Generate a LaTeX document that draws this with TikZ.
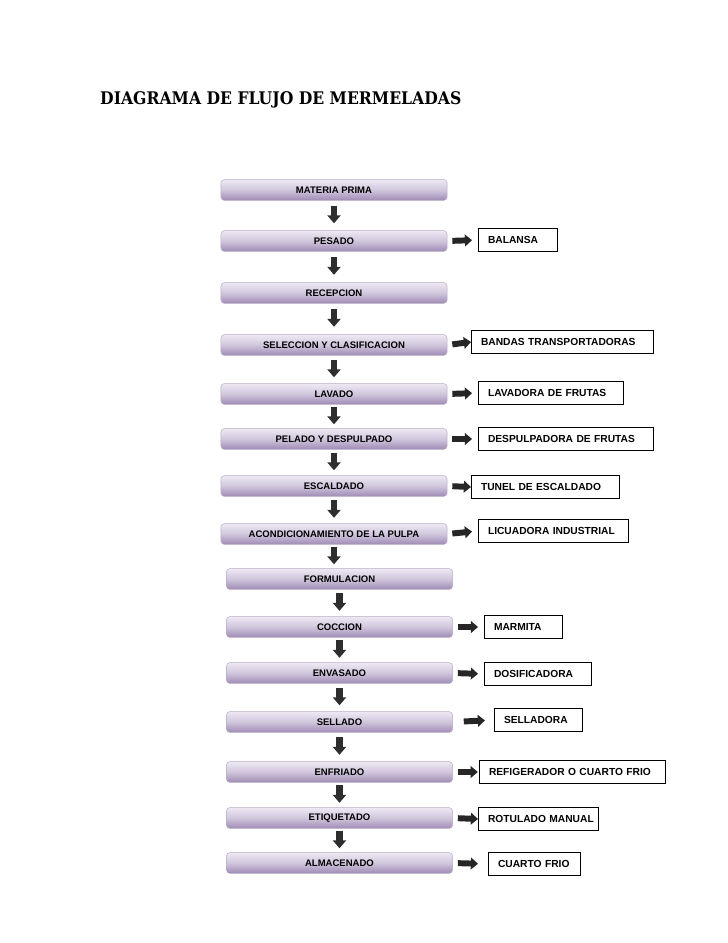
\documentclass[tikz,border=0pt]{standalone}
\usepackage{fontspec}
\setmainfont{Liberation Sans}
\newfontfamily\titulofont{DejaVu Serif Condensed}
\usetikzlibrary{arrows.meta}
\definecolor{lilaclaro}{RGB}{238,233,243}
\definecolor{lilamedio}{RGB}{208,198,220}
\definecolor{lilaoscuro}{RGB}{158,138,180}
\definecolor{lilaborde}{RGB}{182,172,196}
\tikzset{
  paso/.style={draw=lilaborde, rounded corners=3pt, top color=lilaclaro, bottom color=lilaoscuro, middle color=lilamedio, minimum width=190pt, minimum height=17.6pt, inner sep=0pt, font=\bfseries\fontsize{8}{9}\selectfont},
  equipo/.style={draw, line width=0.8pt, fill=white, anchor=west, inner xsep=8pt, minimum height=19pt, text width=#1, align=left, font=\bfseries\fontsize{8.6}{10}\selectfont},
  flecha/.style={draw=black!82, line width=5.8pt, -{Triangle[width=11pt,length=6.7pt]}, shorten <=#1*0.84pt-0.84pt, shorten >=#1*0.84pt+0.84pt},
  flechah/.style={draw=black!85, line width=5pt, -{Triangle[width=9.8pt,length=6pt]}, shorten <=4.2pt, shorten >=5pt}
}
\begin{document}
\begin{tikzpicture}[x=0.84pt, y=-0.84pt]
\useasboundingbox (0,0) rectangle (728,943);
\node[anchor=west, inner sep=0pt, font=\titulofont\bfseries\fontsize{14.6}{17}\selectfont] (titulo) at (100,100) {DIAGRAMA DE FLUJO DE MERMELADAS};

\node[paso] (p1) at (334,190) {MATERIA PRIMA};
\node[paso] (p2) at (334,241) {PESADO};
\node[paso] (p3) at (334,293) {RECEPCION};
\node[paso] (p4) at (334,345) {SELECCION Y CLASIFICACION};
\node[paso] (p5) at (334,394) {LAVADO};
\node[paso] (p6) at (334,439) {PELADO Y DESPULPADO};
\node[paso] (p7) at (334,486) {ESCALDADO};
\node[paso] (p8) at (334,534) {ACONDICIONAMIENTO DE LA PULPA};
\node[paso] (p9) at (339.5,579) {FORMULACION};
\node[paso] (p10) at (339.5,627) {COCCION};
\node[paso] (p11) at (339.5,673) {ENVASADO};
\node[paso] (p12) at (339.5,722) {SELLADO};
\node[paso] (p13) at (339.5,772) {ENFRIADO};
\node[paso] (p14) at (339.5,818) {ETIQUETADO};
\node[paso] (p15) at (339.5,863) {ALMACENADO};

\node[equipo=50.4pt] (e1) at (478,240) {BALANSA};
\node[equipo=136.9pt] (e2) at (471,342) {\mbox{BANDAS TRANSPORTADORAS}};
\node[equipo=105.8pt] (e3) at (478,393) {\mbox{LAVADORA DE FRUTAS}};
\node[equipo=131pt] (e4) at (478,439) {\mbox{DESPULPADORA DE FRUTAS}};
\node[equipo=108.3pt] (e5) at (471,487) {\mbox{TUNEL DE ESCALDADO}};
\node[equipo=110pt] (e6) at (478,531) {\mbox{LICUADORA INDUSTRIAL}};
\node[equipo=49.5pt] (e7) at (484,627) {MARMITA};
\node[equipo=73.9pt] (e8) at (484,674) {DOSIFICADORA};
\node[equipo=57.9pt] (e9) at (494,720) {SELLADORA};
\node[equipo=140.2pt] (e10) at (479,772) {\mbox{REFIGERADOR O CUARTO FRIO}};
\node[equipo=84.8pt] (e11) at (478,819) {\mbox{ROTULADO MANUAL}};
\node[equipo=61.3pt] (e12) at (488,864) {\mbox{CUARTO FRIO}};

\draw[flecha=6] (p1.south) -- (p1.south |- p2.north);
\draw[flecha=6.5] (p2.south) -- (p2.south |- p3.north);
\draw[flecha=6.5] (p3.south) -- (p3.south |- p4.north);
\draw[flecha=5] (p4.south) -- (p4.south |- p5.north);
\draw[flecha=3] (p5.south) -- (p5.south |- p6.north);
\draw[flecha=4] (p6.south) -- (p6.south |- p7.north);
\draw[flecha=4.5] (p7.south) -- (p7.south |- p8.north);
\draw[flecha=3] (p8.south) -- (p8.south |- p9.north);
\draw[flecha=4.5] (p9.south) -- (p9.south |- p10.north);
\draw[flecha=3.5] (p10.south) -- (p10.south |- p11.north);
\draw[flecha=5] (p11.south) -- (p11.south |- p12.north);
\draw[flecha=5.5] (p12.south) -- (p12.south |- p13.north);
\draw[flecha=3.5] (p13.south) -- (p13.south |- p14.north);
\draw[flecha=3] (p14.south) -- (p14.south |- p15.north);

\draw[flechah] (p2.east) -- (e1.west);
\draw[flechah, shorten >=0pt] (p4.east) -- (e2.west);
\draw[flechah] (p5.east) -- (e3.west);
\draw[flechah] (p6.east) -- (e4.west);
\draw[flechah, shorten >=0pt] (p7.east) -- (e5.west);
\draw[flechah] (p8.east) -- (e6.west);
\draw[flechah] (p10.east) -- (e7.west);
\draw[flechah] (p11.east) -- (e8.west);
\draw[flechah, shorten <=9.2pt, shorten >=7.6pt] (p12.east) -- (e9.west);
\draw[flechah, shorten >=1pt] (p13.east) -- (e10.west);
\draw[flechah, shorten >=0pt] (p14.east) -- (e11.west);
\draw[flechah, shorten >=8.4pt] (p15.east) -- (e12.west);
\end{tikzpicture}
\end{document}
